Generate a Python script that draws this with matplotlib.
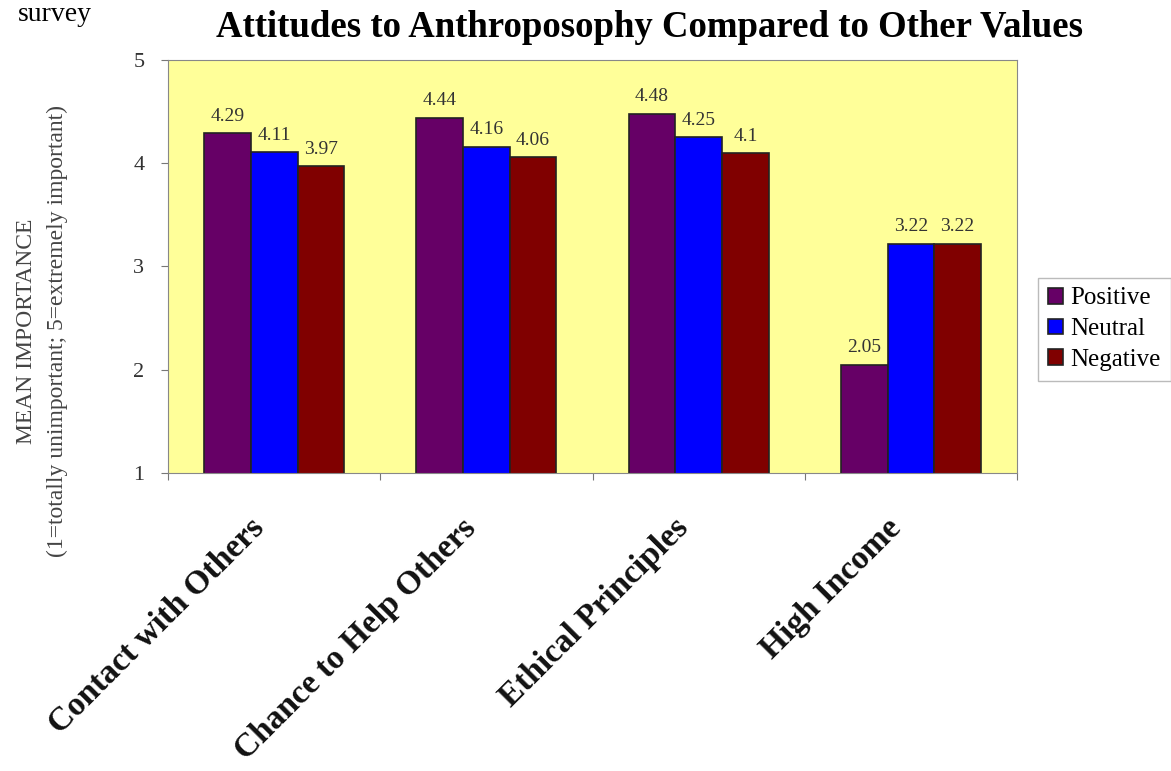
import matplotlib
matplotlib.use('Agg')
import matplotlib.pyplot as plt
import matplotlib.transforms as mtransforms
import numpy as np

categories = ["Contact with Others", "Chance to Help Others", "Ethical Principles", "High Income"]
series_names = ["Positive", "Neutral", "Negative"]
positive = [4.29, 4.44, 4.48, 2.05]
neutral = [4.11, 4.16, 4.25, 3.22]
negative = [3.97, 4.06, 4.1, 3.22]
value_labels = [["4.29", "4.44", "4.48", "2.05"],
                ["4.11", "4.16", "4.25", "3.22"],
                ["3.97", "4.06", "4.1", "3.22"]]
colors = ["#660066", "#0000ff", "#800000"]

plt.rcParams['font.family'] = ['Liberation Serif', 'DejaVu Serif']

fig = plt.figure(figsize=(11.71, 7.71), dpi=100)
ax = fig.add_axes([0.1435, 0.3865, 0.7250, 0.5357])
ax.set_facecolor("#ffff99")

x = np.arange(len(categories))
width = 0.22
for i, (name, vals) in enumerate(zip(series_names, [positive, neutral, negative])):
    pos = x + (i - 1) * width
    ax.bar(pos, vals, width, color=colors[i], edgecolor="#222222",
           linewidth=1.2, label=name)
    for px, v, lab in zip(pos, vals, value_labels[i]):
        ax.annotate(lab, (px, v), xytext=(0, 6), textcoords="offset points",
                    ha="center", va="bottom", fontsize=14, color="#333333")

ax.set_ylim(1, 5)
ax.set_xlim(-0.5, len(categories) - 0.5)
ax.set_yticks([1, 2, 3, 4, 5])
ax.tick_params(axis="y", labelsize=16, length=5, pad=12, colors="#777777",
               labelcolor="#333333")
# tick marks sit on the category boundaries, labels drawn separately
ax.set_xticks(np.arange(-0.5, len(categories)), labels=[])
ax.tick_params(axis="x", length=5, colors="#777777")
for s in ax.spines.values():
    s.set_color("#888888")

trans = mtransforms.blended_transform_factory(ax.transData, ax.transAxes)
for xi, cat in zip(x, categories):
    ax.text(xi - 0.12, -0.095, cat, transform=trans, rotation=45,
            rotation_mode="anchor", ha="right", va="top",
            fontsize=24, fontweight="bold", color="#111111")

fig.text(27 / 1171, 1 - 331 / 771, "MEAN IMPORTANCE", rotation=90,
         ha="center", va="center", fontsize=17, color="#444444")
fig.text(57 / 1171, 1 - 331 / 771,
         "(1=totally unimportant; 5=extremely important)", rotation=90,
         ha="center", va="center", fontsize=17, color="#444444")

fig.text(649 / 1171, 1 - 37 / 771,
         "Attitudes to Anthroposophy Compared to Other Values",
         ha="center", va="baseline", fontsize=26.5, fontweight="bold")

fig.text(18 / 1171, 1 - 21 / 771, "survey", fontsize=20, va="baseline", ha="left")

leg = fig.legend(loc="lower left", bbox_to_anchor=(1038 / 1171, 1 - 381 / 771),
                 fontsize=18, frameon=True, fancybox=False, edgecolor="#aaaaaa",
                 handlelength=0.6, handleheight=0.6, handletextpad=0.3,
                 borderpad=0.4, labelspacing=0.35, borderaxespad=0)

fig.savefig("out.png", dpi=100)
